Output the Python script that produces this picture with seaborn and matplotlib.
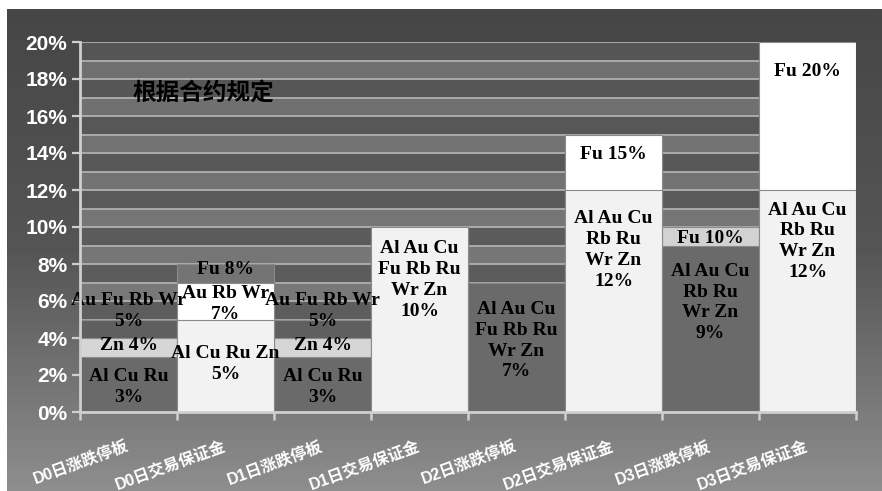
import numpy as np
import pandas as pd
import matplotlib
matplotlib.use("Agg")
import matplotlib.pyplot as plt
import seaborn as sns
from matplotlib.colors import LinearSegmentedColormap

# ---------------- data ----------------
categories = ['D0日涨跌停板', 'D0日交易保证金', 'D1日涨跌停板', 'D1日交易保证金',
              'D2日涨跌停板', 'D2日交易保证金', 'D3日涨跌停板', 'D3日交易保证金']
seg1 = [3, 5, 3, 10, 7, 12, 9, 12]
seg2 = [1, 2, 1, 0, 0, 3, 1, 8]
seg3 = [1, 1, 1, 0, 0, 0, 0, 0]
seg1_labels = ['Al Cu Ru\n3%', 'Al Cu Ru Zn\n5%', 'Al Cu Ru\n3%',
               'Al Au Cu\nFu Rb Ru\nWr Zn\n10%', 'Al Au Cu\nFu Rb Ru\nWr Zn\n7%',
               'Al Au Cu\nRb Ru\nWr Zn\n12%', 'Al Au Cu\nRb Ru\nWr Zn\n9%',
               'Al Au Cu\nRb Ru\nWr Zn\n12%']
seg2_labels = ['Zn 4%', 'Au Rb Wr\n7%', 'Zn 4%', '', '', 'Fu 15%', 'Fu 10%', 'Fu 20%']
seg3_labels = ['Au Fu Rb Wr\n5%', 'Fu 8%', 'Au Fu Rb Wr\n5%', '', '', '', '', '']
y_ticks = [0, 2, 4, 6, 8, 10, 12, 14, 16, 18, 20]
y_tick_labels = ['0%', '2%', '4%', '6%', '8%', '10%', '12%', '14%', '16%', '18%', '20%']
note_text = '根据合约规定'

# label anchor heights (data units)
label_y1 = [1.35, 2.6, 1.35, 7.14, 3.86, 8.76, 5.92, 9.22]
label_y2 = [3.62, 5.84, 3.62, None, None, 13.9, 9.4, 18.4]
label_y3 = [5.46, 7.68, 5.46, None, None, None, None, None]

# colours per segment
c1 = ['#6a6a6a', '#f2f2f2', '#6a6a6a', '#f2f2f2', '#6a6a6a', '#f2f2f2', '#6a6a6a', '#f2f2f2']
c2 = ['#d6d6d6', '#ffffff', '#d6d6d6', '#f2f2f2', '#6a6a6a', '#ffffff', '#d2d2d2', '#ffffff']
c3 = ['#5f5f5f', '#747474', '#5f5f5f', '#f2f2f2', '#6a6a6a', '#ffffff', '#d2d2d2', '#ffffff']

# ---------------- figure ----------------
sns.set_theme(style="white")
plt.rcParams['font.family'] = ['Liberation Sans', 'Noto Sans CJK SC', 'DejaVu Sans']

W, H = 882, 491
fig = plt.figure(figsize=(W / 100, H / 100), dpi=100, facecolor='white')

# gradient background
bg = fig.add_axes([7 / W, 0, 1 - 7 / W, 1 - 9 / H], zorder=-10)
cmap = LinearSegmentedColormap.from_list('g', ['#464646', '#555555', '#8e8e8e'])
grad = np.linspace(0, 1, 256).reshape(-1, 1)
bg.imshow(grad, aspect='auto', cmap=cmap, extent=[0, 1, 0, 1], origin='upper')
bg.set_axis_off()

ax = fig.add_axes([80 / W, 1 - 412 / H, 776 / W, 370 / H])
ax.patch.set_alpha(0)

# alternating horizontal bands
for k in range(20):
    t = k / 19.0
    if k % 2 == 0:
        col = np.array([0x7c, 0x7c, 0x7c]) * (1 - t) + np.array([0x6e, 0x6e, 0x6e]) * t
    else:
        col = np.array([0x60, 0x60, 0x60]) * (1 - t) + np.array([0x55, 0x55, 0x55]) * t
    ax.axhspan(k, k + 1, color=col / 255.0, zorder=0.1, lw=0)
for k in range(1, 21):
    ax.axhline(k, color='#b0b0b0', lw=1.3, zorder=0.2)

tot3 = [a + b + c for a, b, c in zip(seg1, seg2, seg3)]
tot2 = [a + b for a, b in zip(seg1, seg2)]
df = pd.DataFrame({'cat': categories, 't3': tot3, 't2': tot2, 't1': seg1})

for col, pal in [('t3', c3), ('t2', c2), ('t1', c1)]:
    sns.barplot(data=df, x='cat', y=col, hue='cat', order=categories, hue_order=categories,
                palette=pal, legend=False, width=1.0, saturation=1, ax=ax,
                edgecolor='#8a8a8a', linewidth=0.8, zorder=3)

lab_kw = dict(ha='center', va='center', fontsize=14, fontweight='bold',
              family=['Liberation Serif', 'DejaVu Serif'], color='black',
              linespacing=1.3, zorder=5)
for i in range(len(categories)):
    for labs, ys in [(seg1_labels, label_y1), (seg2_labels, label_y2), (seg3_labels, label_y3)]:
        if labs[i] and ys[i] is not None:
            ax.text(i, ys[i], labs[i], **lab_kw)

ax.text(0.068, 0.862, note_text, transform=ax.transAxes, ha='left', va='center',
        fontsize=17, fontweight='bold', family=['Noto Sans CJK SC'], color='black', zorder=6)

ax.set_xlim(-0.5, 7.5)
ax.set_ylim(0, 20)
ax.set_xlabel('')
ax.set_ylabel('')

ax.set_yticks(y_ticks)
ax.set_yticklabels(y_tick_labels, fontsize=15, fontweight='bold', color='white',
                   family=['Liberation Sans', 'DejaVu Sans'])
ax.tick_params(axis='y', which='major', length=6, width=1.6, color='#cfcfcf', pad=3, left=True)

ax.set_xticks(range(len(categories)))
ax.set_xticklabels(categories, fontsize=11.5, fontweight='bold', color='white',
                   family=['Liberation Sans', 'Noto Sans CJK SC'])
ax.tick_params(axis='x', which='major', length=0, pad=24)
for lbl in ax.get_xticklabels():
    lbl.set_rotation(20)
    lbl.set_ha('right')
    lbl.set_va('center')
    lbl.set_rotation_mode('anchor')
ax.set_xticks(np.arange(-0.5, len(categories), 1.0), minor=True)
ax.tick_params(axis='x', which='minor', length=6, width=1.8, color='#cfcfcf', bottom=True)

for s in ['top', 'right']:
    ax.spines[s].set_visible(False)
for s in ['left', 'bottom']:
    ax.spines[s].set_color('#cfcfcf')
    ax.spines[s].set_linewidth(2)
    ax.spines[s].set_zorder(6)

fig.savefig('out.png', dpi=100, facecolor='white')
